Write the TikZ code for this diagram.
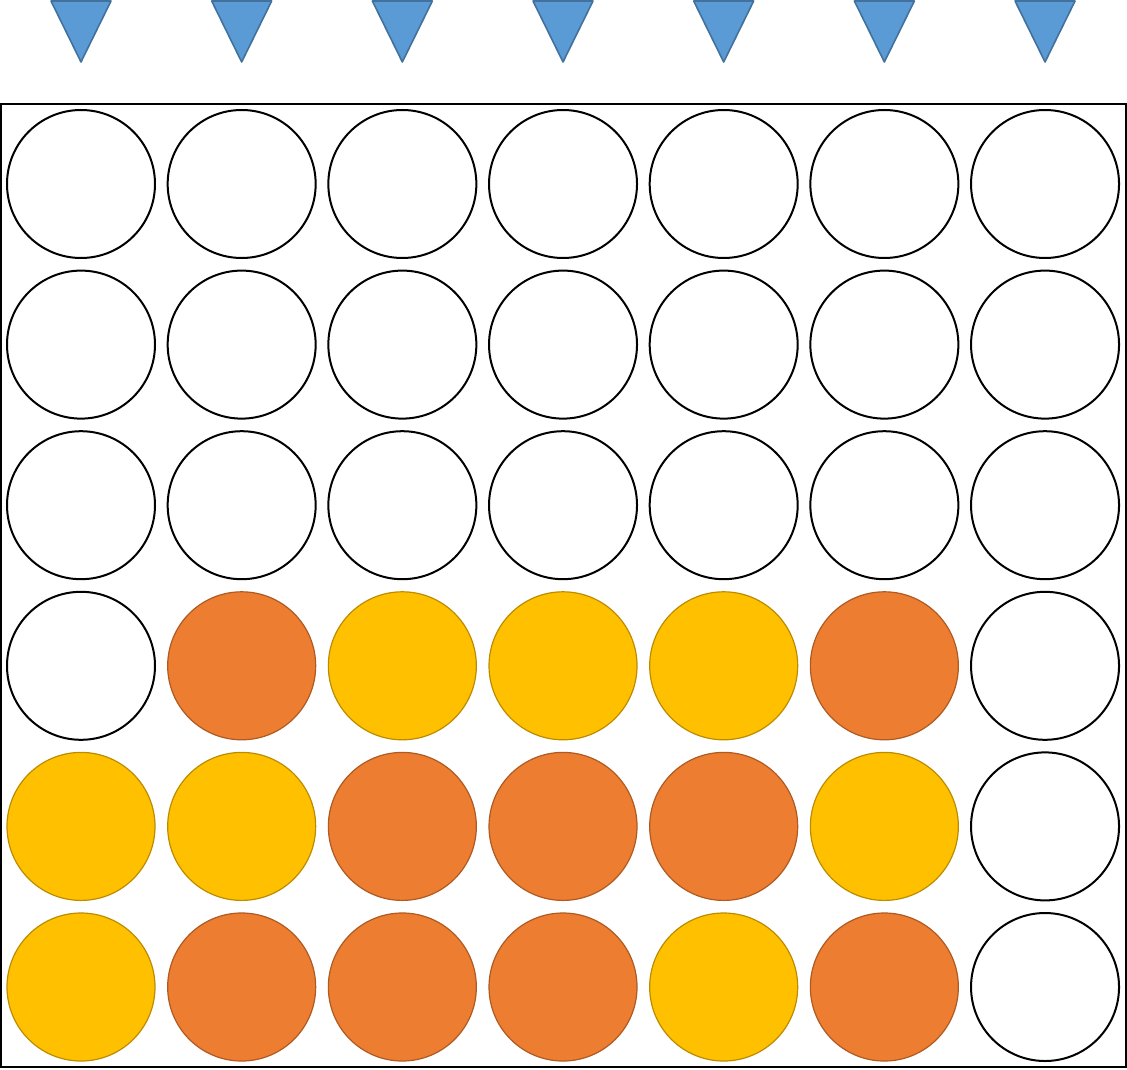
\documentclass[tikz,border=0pt]{standalone}
\usepackage{tikz}
\usetikzlibrary{positioning}
\definecolor{cfblue}{HTML}{5B9BD5}
\definecolor{cfblueline}{HTML}{41719C}
\definecolor{cforange}{HTML}{ED7D31}
\definecolor{cforangeline}{HTML}{AE5A21}
\definecolor{cfyellow}{HTML}{FFC000}
\definecolor{cfyellowline}{HTML}{BC8C00}

\begin{document}
\begin{tikzpicture}[
  x=0.5pt, y=-0.5pt,
  hole/.style={circle, draw=black, line width=1pt, fill=white,
               minimum size=74pt, inner sep=0pt},
  pe/.style={hole},
  po/.style={hole, fill=cforange, draw=cforangeline, line width=0.6pt},
  py/.style={hole, fill=cfyellow, draw=cfyellowline, line width=0.6pt},
  dropper/.style={fill=cfblue, draw=cfblueline, line width=0.8pt, line join=round}
]
  \useasboundingbox (0,0) rectangle (1127,1069);
  \node[draw=black, line width=1pt, minimum width=562.5pt, minimum height=481.5pt,
        inner sep=0pt] (board) at (563.5,585.5) {};
  % droppers above each column
  \foreach \c in {0,...,6} {
    \coordinate (drop-\c) at ({81+160.67*\c},1);
    \draw[dropper] (drop-\c) ++(-30,0) -- ++(60,0) -- ++(-30,61) -- cycle;
  }
  % the grid, one row at a time
  \foreach \row [count=\r from 0] in {
      {pe,pe,pe,pe,pe,pe,pe},
      {pe,pe,pe,pe,pe,pe,pe},
      {pe,pe,pe,pe,pe,pe,pe},
      {pe,po,py,py,py,po,pe},
      {py,py,po,po,po,py,pe},
      {py,po,po,po,py,po,pe}} {
    \foreach \piece [count=\c from 0] in \row
      \node[\piece] (cell-\r-\c) at ({81+160.67*\c},{184+160.6*\r}) {};
  }
\end{tikzpicture}
\end{document}
